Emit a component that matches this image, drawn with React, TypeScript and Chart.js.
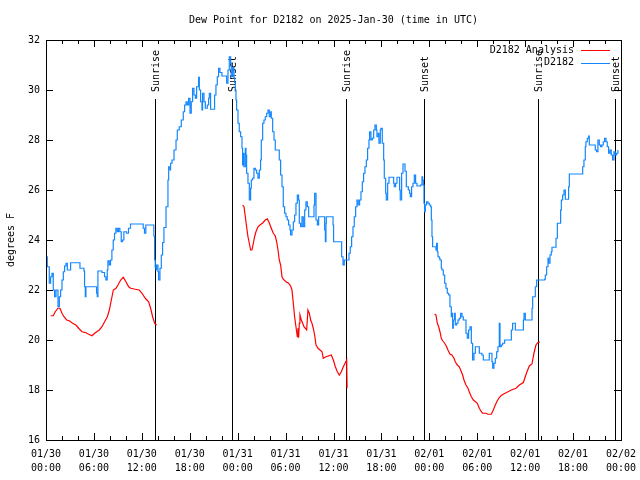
import React, { useEffect, useRef } from "react";
import { Chart, registerables } from "chart.js";

Chart.register(...registerables);

const FONT = "'DejaVu Sans Mono', 'Liberation Mono', monospace";
const FONT_SIZE = 10;

const titleText = "Dew Point for D2182 on 2025-Jan-30 (time in UTC)";
const yAxisLabel = "degrees F";
const seriesNames = ["D2182 Analysis", "D2182"];
const seriesColors = ["#ff0000", "#1487ff"];

const yTicks = [16, 18, 20, 22, 24, 26, 28, 30, 32];
const xTickHours = [0, 6, 12, 18, 24, 30, 36, 42, 48, 54, 60, 66, 72];
const xTickDates = ["01/30", "01/30", "01/30", "01/30", "01/31", "01/31", "01/31", "01/31", "02/01", "02/01", "02/01", "02/01", "02/02"];
const xTickTimes = ["00:00", "06:00", "12:00", "18:00", "00:00", "06:00", "12:00", "18:00", "00:00", "06:00", "12:00", "18:00", "00:00"];

const sunEventHours = [13.6, 23.24, 37.62, 47.27, 61.56, 71.31];
const sunEventLabels = ["Sunrise", "Sunset", "Sunrise", "Sunset", "Sunrise", "Sunset"];
const sunLineTopValue = 29.64;

// Observations (hours since 01/30 00:00 UTC, degrees F)
const blueHours = [
  0.0, 0.16, 0.41, 0.58, 0.75, 0.91, 1.08, 1.25, 1.5, 1.67, 1.83, 2.0, 2.17, 2.33, 2.5, 2.67, 2.92, 3.08, 4.08, 4.25,
  4.75, 4.83, 4.92, 5.0, 6.17, 6.33, 6.42, 6.5, 7.0, 7.33, 7.5, 7.67, 7.75, 7.92, 8.08, 8.25, 8.42, 8.58, 8.75, 8.92,
  9.08, 9.25, 9.42, 9.58, 9.75, 10.08, 10.33, 10.58, 12.0, 12.17, 12.33, 12.5, 13.42, 13.5, 13.6, 13.68, 13.77, 13.85, 14.02, 14.1,
  14.27, 14.44, 14.6, 14.77, 15.03, 15.27, 15.36, 15.53, 15.6, 15.78, 16.03, 16.28, 16.44, 16.69, 16.94, 17.19, 17.36, 17.53, 17.69, 17.86,
  18.03, 18.19, 18.36, 18.53, 18.7, 18.86, 19.11, 19.2, 19.36, 19.53, 19.61, 19.78, 19.95, 20.2, 20.36, 20.45, 20.61, 21.03, 21.11, 21.28,
  21.45, 21.61, 21.78, 22.03, 22.54, 22.62, 22.79, 22.95, 23.12, 23.2, 23.37, 23.54, 23.62, 23.7, 23.79, 23.87, 24.04, 24.2, 24.37, 24.54,
  24.62, 24.7, 24.79, 24.96, 25.04, 25.12, 25.29, 25.46, 25.62, 25.71, 25.87, 26.04, 26.21, 26.37, 26.54, 26.71, 26.87, 26.96, 27.13, 27.29,
  27.46, 27.63, 27.8, 27.96, 28.13, 28.21, 28.38, 28.55, 28.71, 29.05, 29.21, 29.38, 29.55, 29.71, 29.88, 30.05, 30.21, 30.38, 30.55, 30.63,
  30.8, 30.97, 31.13, 31.3, 31.47, 31.63, 31.72, 31.88, 32.05, 32.22, 32.39, 32.55, 32.72, 32.89, 33.39, 33.56, 33.64, 33.81, 33.98, 34.14,
  34.81, 34.89, 34.98, 35.06, 35.1, 35.76, 35.94, 36.01, 36.94, 37.02, 37.19, 37.35, 37.77, 37.94, 38.1, 38.27, 38.44, 38.6, 38.77, 38.94,
  39.1, 39.27, 39.44, 39.61, 39.77, 39.94, 40.11, 40.27, 40.44, 40.52, 40.69, 40.86, 41.03, 41.19, 41.36, 41.44, 41.61, 41.69, 41.86, 41.94,
  42.11, 42.28, 42.36, 42.53, 42.61, 42.78, 42.95, 43.36, 43.53, 43.61, 43.78, 43.95, 44.11, 44.28, 44.36, 44.53, 44.7, 44.87, 44.95, 45.12,
  45.37, 45.53, 45.62, 45.78, 45.95, 46.12, 46.28, 46.45, 46.91, 47.08, 47.16, 47.25, 47.33, 47.41, 47.5, 47.66, 47.83, 48.0, 48.16, 48.25,
  48.33, 48.41, 48.66, 48.83, 48.91, 49.0, 49.08, 49.25, 49.33, 49.5, 49.58, 49.75, 49.92, 50.08, 50.25, 50.42, 50.58, 50.75, 50.83, 50.92,
  51.0, 51.17, 51.25, 51.42, 51.59, 51.75, 51.92, 52.09, 52.25, 52.42, 52.59, 52.75, 52.92, 53.09, 53.26, 53.42, 53.59, 53.76, 54.09, 54.26,
  54.42, 54.59, 54.76, 55.34, 55.51, 55.67, 55.84, 55.93, 56.09, 56.26, 56.43, 56.59, 56.76, 56.85, 57.01, 57.18, 57.43, 58.18, 58.27, 58.43,
  58.6, 58.77, 59.69, 59.78, 59.86, 60.02, 60.77, 60.86, 60.94, 61.11, 61.27, 61.44, 62.44, 62.52, 62.69, 62.86, 62.94, 63.11, 63.27, 63.36,
  63.78, 63.86, 64.03, 64.36, 64.44, 64.53, 64.69, 64.86, 65.03, 65.36, 65.44, 65.53, 67.11, 67.2, 67.36, 67.53, 67.61, 67.78, 67.95, 68.03,
  68.61, 68.78, 68.95, 69.11, 69.28, 69.45, 69.61, 69.78, 69.95, 70.12, 70.28, 70.45, 70.62, 70.78, 70.95, 71.12, 71.28, 71.45, 71.61,
];
const blueValues = [
  23.33, 22.93, 22.27, 22.53, 22.67, 22.0, 21.73, 22.0, 21.33, 21.73, 22.0, 22.4, 22.73, 22.96, 23.07, 22.8, 22.8, 23.09, 23.09, 22.87,
  22.76, 22.13, 21.73, 22.13, 22.13, 21.87, 21.73, 22.76, 22.7, 22.53, 22.4, 22.8, 23.17, 23.0, 23.2, 23.6, 24.0, 24.27, 24.47, 24.33,
  24.47, 24.33, 23.93, 24.0, 24.33, 24.27, 24.47, 24.64, 24.64, 24.47, 24.27, 24.6, 24.6, 24.16, 23.2, 22.9, 22.8, 23.0, 22.73, 22.4,
  22.87, 23.4, 23.9, 24.5, 25.33, 26.4, 26.93, 26.8, 27.07, 27.2, 27.6, 28.0, 28.4, 28.53, 28.8, 29.13, 29.4, 29.53, 29.4, 29.67,
  29.07, 29.53, 30.07, 29.8, 29.67, 30.13, 30.51, 30.0, 29.53, 29.2, 29.87, 29.53, 29.27, 29.4, 29.67, 29.87, 29.23, 29.23, 29.8, 30.2,
  30.53, 30.87, 30.7, 30.56, 30.56, 30.27, 30.8, 31.33, 31.07, 30.53, 30.9, 30.5, 30.3, 30.0, 29.6, 29.2, 28.67, 28.33, 28.13, 27.67,
  27.0, 27.47, 26.93, 27.67, 27.4, 26.67, 26.27, 25.6, 26.07, 26.4, 26.47, 26.87, 26.8, 26.67, 26.47, 26.8, 27.2, 28.0, 28.67, 28.8,
  28.93, 29.07, 29.2, 28.93, 29.13, 28.87, 28.33, 28.0, 27.6, 27.6, 27.2, 26.6, 26.13, 25.33, 25.07, 24.93, 24.8, 24.6, 24.4, 24.2,
  24.4, 24.73, 25.0, 25.47, 25.8, 25.6, 24.67, 24.53, 24.93, 24.53, 25.2, 25.53, 25.33, 24.93, 24.93, 25.4, 25.87, 24.8, 24.6, 24.93,
  24.93, 24.4, 23.93, 24.67, 24.93, 24.93, 24.6, 23.93, 23.93, 23.33, 23.0, 23.2, 23.2, 23.47, 23.73, 24.13, 24.53, 24.93, 25.33, 25.6,
  25.4, 25.6, 25.93, 26.33, 26.67, 26.93, 27.2, 27.67, 28.0, 28.33, 28.0, 28.07, 28.4, 28.6, 28.4, 28.13, 28.27, 27.87, 28.4, 28.47,
  27.87, 27.2, 26.47, 25.87, 25.6, 26.27, 26.51, 26.51, 26.27, 26.13, 26.27, 26.51, 26.51, 26.0, 25.6, 26.67, 27.04, 27.04, 26.75, 26.13,
  26.0, 25.87, 25.73, 26.13, 26.27, 26.6, 26.27, 26.16, 26.2, 26.53, 26.4, 26.2, 25.47, 25.13, 25.4, 25.53, 25.47, 25.4, 25.33, 24.8,
  24.13, 23.73, 23.73, 23.6, 23.87, 23.53, 23.33, 23.27, 23.2, 22.87, 22.8, 22.6, 22.27, 22.07, 21.87, 21.8, 21.33, 20.93, 21.07, 20.47,
  20.8, 21.07, 20.6, 20.67, 20.8, 20.87, 21.07, 20.93, 20.8, 20.8, 20.27, 20.07, 20.4, 20.53, 19.87, 19.2, 19.47, 19.73, 19.73, 19.47,
  19.47, 19.4, 19.2, 19.2, 19.47, 19.47, 19.13, 18.87, 19.07, 19.27, 19.53, 19.73, 20.67, 19.73, 19.8, 19.87, 20.0, 20.0, 20.4, 20.67,
  20.67, 20.4, 20.4, 20.8, 21.07, 20.8, 20.8, 21.27, 21.73, 21.73, 22.13, 22.4, 22.43, 22.6, 22.93, 23.27, 23.07, 23.4, 23.53, 23.71,
  23.71, 24.07, 24.67, 24.67, 25.2, 25.6, 25.8, 26.0, 25.63, 25.63, 26.13, 26.64, 26.64, 26.93, 27.2, 27.73, 27.93, 28.07, 28.16, 27.8,
  27.8, 27.6, 27.53, 28.0, 27.8, 27.73, 27.8, 27.93, 28.07, 27.93, 27.73, 27.47, 27.6, 27.4, 27.2, 27.53, 27.4, 27.47, 27.6,
];

// Analysis (null separates the three analysis runs)
const analysisHours = [
  0.58, 0.91, 1.16, 1.5, 1.75, 2.0, 2.25, 2.58, 2.92, 3.33, 3.75, 4.09, 4.5, 5.0, 5.34, 5.76, 6.17, 6.67, 7.01, 7.34,
  7.68, 7.93, 8.18, 8.43, 8.76, 9.01, 9.35, 9.68, 10.01, 10.35, 10.6, 11.18, 11.68, 12.02, 12.43, 12.85, 13.1, 13.35, 13.6, 13.85,
  14.0,
  24.62, 24.79, 24.96, 25.12, 25.29, 25.46, 25.62, 25.79, 25.96, 26.12, 26.29, 26.54, 26.79, 27.13, 27.46, 27.71, 27.96, 28.21, 28.46, 28.71,
  28.88, 29.05, 29.21, 29.38, 29.55, 29.71, 30.05, 30.38, 30.63, 30.8, 30.97, 31.13, 31.3, 31.47, 31.55, 31.63, 31.72, 31.8, 31.97, 32.14,
  32.3, 32.47, 32.64, 32.8, 32.97, 33.14, 33.3, 33.47, 33.64, 33.81, 34.06, 34.31, 34.56, 34.72, 35.06, 35.72, 35.98, 36.23, 36.48, 36.73,
  36.98, 37.23, 37.48, 37.65, 37.7,
  38.0,
  48.66, 48.83, 49.0, 49.17, 49.33, 49.5, 49.67, 49.92, 50.17, 50.33, 50.58, 50.83, 51.09, 51.25, 51.5, 51.75, 51.92, 52.17, 52.34, 52.59,
  52.84, 53.0, 53.26, 53.51, 53.67, 54.01, 54.26, 54.51, 54.67, 55.09, 55.34, 55.76, 56.01, 56.26, 56.51, 56.76, 57.01, 57.35, 57.68, 58.27,
  58.85, 59.27, 59.77, 60.18, 60.52, 60.85, 61.1, 61.35, 61.56, 61.85,
];
const analysisValues = [
  20.97, 20.97, 21.13, 21.27, 21.27, 21.07, 20.93, 20.8, 20.77, 20.67, 20.6, 20.47, 20.33, 20.29, 20.23, 20.17, 20.29, 20.4, 20.53, 20.73,
  20.93, 21.2, 21.6, 22.0, 22.07, 22.2, 22.4, 22.51, 22.33, 22.13, 22.07, 22.03, 22.0, 21.87, 21.67, 21.53, 21.27, 20.93, 20.67, 20.6,
  null,
  25.4, 25.33, 24.93, 24.53, 24.13, 23.87, 23.6, 23.6, 23.87, 24.13, 24.33, 24.53, 24.6, 24.68, 24.8, 24.85, 24.68, 24.47, 24.27, 24.16,
  23.93, 23.6, 23.2, 23.0, 22.53, 22.43, 22.33, 22.27, 22.16, 22.0, 21.47, 20.93, 20.53, 20.13, 20.47, 20.09, 20.67, 21.0, 20.8, 20.67,
  20.53, 20.47, 20.4, 21.2, 21.07, 20.8, 20.67, 20.47, 20.2, 19.8, 19.67, 19.6, 19.53, 19.27, 19.33, 19.4, 19.2, 18.93, 18.73, 18.6,
  18.73, 18.93, 19.09, 19.2, 18.07,
  null,
  21.04, 21.0, 20.67, 20.53, 20.33, 20.07, 19.97, 19.87, 19.73, 19.6, 19.44, 19.4, 19.27, 19.13, 19.0, 18.93, 18.8, 18.6, 18.4, 18.2,
  18.07, 17.93, 17.73, 17.6, 17.56, 17.47, 17.27, 17.13, 17.07, 17.07, 17.03, 17.03, 17.2, 17.4, 17.57, 17.7, 17.78, 17.85, 17.9, 18.0,
  18.07, 18.2, 18.3, 18.69, 18.96, 19.04, 19.47, 19.8, 19.89, 19.92,
];

const font = (size = FONT_SIZE) => `${size}px ${FONT}`;

const overlayPlugin = {
  id: "gnuplotOverlay",
  beforeDatasetsDraw(chart: any) {
    const { ctx, chartArea, scales } = chart;
    const x = scales.x;
    const y = scales.y;
    ctx.save();
    ctx.strokeStyle = "#000";
    ctx.lineWidth = 1;
    const topY = y.getPixelForValue(sunLineTopValue);
    sunEventHours.forEach((h, i) => {
      const px = Math.round(x.getPixelForValue(h)) + 0.5;
      ctx.beginPath();
      ctx.moveTo(px, topY);
      ctx.lineTo(px, chartArea.bottom);
      ctx.stroke();
      ctx.save();
      ctx.translate(px + 1, topY - 7);
      ctx.rotate(-Math.PI / 2);
      ctx.fillStyle = "#000";
      ctx.font = font();
      ctx.textAlign = "left";
      ctx.textBaseline = "middle";
      ctx.fillText(sunEventLabels[i], 0, 0);
      ctx.restore();
    });
    ctx.restore();
  },
  afterDraw(chart: any) {
    const { ctx, chartArea, scales } = chart;
    const x = scales.x;
    const y = scales.y;
    const { left, right, top, bottom } = chartArea;
    ctx.save();
    ctx.strokeStyle = "#000";
    ctx.lineWidth = 1;
    // frame
    ctx.strokeRect(Math.round(left) + 0.5, Math.round(top) + 0.5, Math.round(right - left), Math.round(bottom - top));
    // y ticks (inward, both sides)
    yTicks.forEach((v) => {
      const py = Math.round(y.getPixelForValue(v)) + 0.5;
      ctx.beginPath();
      ctx.moveTo(left, py);
      ctx.lineTo(left + 7, py);
      ctx.moveTo(right, py);
      ctx.lineTo(right - 7, py);
      ctx.stroke();
    });
    // x ticks: major every 6h, minor every 2h
    for (let h = 0; h <= 72; h += 2) {
      const len = h % 6 === 0 ? 7 : 4;
      const px = Math.round(x.getPixelForValue(h)) + 0.5;
      ctx.beginPath();
      ctx.moveTo(px, bottom);
      ctx.lineTo(px, bottom - len);
      ctx.moveTo(px, top);
      ctx.lineTo(px, top + len);
      ctx.stroke();
    }
    // title
    ctx.fillStyle = "#000";
    ctx.font = font();
    ctx.textAlign = "center";
    ctx.textBaseline = "middle";
    ctx.fillText(titleText, (left + right) / 2, 20);
    // legend
    const rows = [50, 62.5];
    seriesNames.forEach((name, i) => {
      ctx.textAlign = "right";
      ctx.fillStyle = "#000";
      ctx.fillText(name, 574, rows[i]);
      ctx.strokeStyle = seriesColors[i];
      ctx.beginPath();
      ctx.moveTo(581, Math.round(rows[i]) + 0.5);
      ctx.lineTo(610, Math.round(rows[i]) + 0.5);
      ctx.stroke();
    });
    ctx.restore();
  },
};

export default function App() {
  const canvasRef = useRef<HTMLCanvasElement | null>(null);

  useEffect(() => {
    if (!canvasRef.current) return;
    const analysisData = analysisHours.map((h, i) => ({ x: h, y: analysisValues[i] }));
    const obsData = blueHours.map((h, i) => ({ x: h, y: blueValues[i] }));
    const chart = new Chart(canvasRef.current, {
      type: "line",
      data: {
        datasets: [
          {
            label: seriesNames[1],
            data: obsData,
            borderColor: seriesColors[1],
            borderWidth: 1.2,
            pointRadius: 0,
            stepped: true,
            fill: false,
          },
          {
            label: seriesNames[0],
            data: analysisData as any,
            borderColor: seriesColors[0],
            borderWidth: 1.2,
            pointRadius: 0,
            tension: 0,
            spanGaps: false,
            fill: false,
          },
        ],
      },
      options: {
        animation: false,
        responsive: false,
        devicePixelRatio: 1,
        layout: { padding: { left: 0, right: 19, top: 40, bottom: 0 } },
        plugins: {
          legend: { display: false },
          title: { display: false },
          tooltip: { enabled: false },
        },
        scales: {
          x: {
            type: "linear",
            min: 0,
            max: 72,
            grid: { display: false, drawTicks: false },
            border: { display: false },
            afterFit: (s: any) => {
              s.height = 40;
              s.paddingLeft = 0;
              s.paddingRight = 0;
            },
            afterBuildTicks: (s: any) => {
              s.ticks = xTickHours.map((v) => ({ value: v }));
            },
            ticks: {
              padding: 7,
              maxRotation: 0,
              autoSkip: false,
              color: "#000",
              font: { family: FONT, size: FONT_SIZE, lineHeight: 1.4 },
              callback: (v: any) => {
                const i = xTickHours.indexOf(Number(v));
                return i >= 0 ? [xTickDates[i], xTickTimes[i]] : "";
              },
            },
          },
          y: {
            type: "linear",
            min: 16,
            max: 32,
            grid: { display: false, drawTicks: false },
            border: { display: false },
            afterFit: (s: any) => {
              s.width = 46;
              s.paddingTop = 0;
              s.paddingBottom = 0;
            },
            afterBuildTicks: (s: any) => {
              s.ticks = yTicks.map((v) => ({ value: v }));
            },
            title: {
              display: true,
              text: yAxisLabel,
              color: "#000",
              font: { family: FONT, size: FONT_SIZE },
              padding: { top: 5, bottom: 0 },
            },
            ticks: {
              padding: 6,
              color: "#000",
              font: { family: FONT, size: FONT_SIZE },
              callback: (v: any) => String(v),
            },
          },
        },
      },
      plugins: [overlayPlugin],
    });
    return () => chart.destroy();
  }, []);

  return (
    <div style={{ position: "fixed", left: 0, top: 0, width: 640, height: 480, background: "#fff" }}>
      <canvas ref={canvasRef} width={640} height={480} style={{ width: 640, height: 480 }} />
    </div>
  );
}
